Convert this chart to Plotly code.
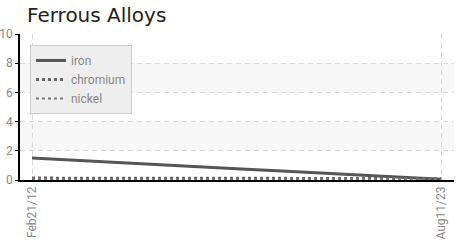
import plotly.graph_objects as go

dates = ["2012-02-21", "2013-02-21", "2014-02-21", "2015-02-21", "2016-02-21",
         "2017-02-21", "2018-02-21", "2019-02-21", "2020-02-21", "2021-02-21",
         "2022-02-21", "2023-02-21", "2023-08-11"]
iron = [1.50, 1.38, 1.25, 1.12, 1.00, 0.87, 0.74, 0.61, 0.48, 0.36, 0.23, 0.10, 0.05]
chromium = [0.13, 0.13, 0.13, 0.10, 0.10, 0.10, 0.10, 0.10, 0.10, 0.10, 0.10, 0.10, 0.10]
nickel = [0.05, 0.05, 0.05, 0.05, 0.05, 0.05, 0.05, 0.05, 0.05, 0.05, 0.05, 0.05, 0.05]
x_ticks = ["2012-02-21", "2023-08-11"]
x_tick_labels = ["Feb21/12", "Aug11/23"]
y_ticks = [0, 2, 4, 6, 8, 10]

narrow = "Roboto, sans-serif"

fig = go.Figure()
fig.add_trace(go.Scatter(x=dates, y=iron, name="iron", mode="lines",
                         line=dict(color="#555555", width=3)))
fig.add_trace(go.Scatter(x=dates, y=chromium, name="chromium", mode="lines",
                         line=dict(color="#666666", width=3, dash="dot")))
fig.add_trace(go.Scatter(x=dates, y=nickel, name="nickel", mode="lines",
                         line=dict(color="#777777", width=2, dash="dot")))

for a, b in [(2, 4), (6, 8)]:
    fig.add_shape(type="rect", xref="paper", yref="y", x0=0, x1=1, y0=a, y1=b,
                  fillcolor="#f7f7f7", line=dict(width=0), layer="below")

fig.update_layout(
    width=458, height=243,
    margin=dict(l=20, r=4, t=34, b=63, autoexpand=False),
    paper_bgcolor="white", plot_bgcolor="white",
    title=dict(text="Ferrous Alloys", x=0.059, xanchor="left", y=0.94, yanchor="middle",
               xref="container", yref="container", automargin=False,
               font=dict(family="DejaVu Sans, sans-serif", size=20, color="#222222")),
    showlegend=True,
    legend=dict(x=0.023, y=0.925, xanchor="left", yanchor="top",
                bgcolor="#eeeeee", bordercolor="#cccccc", borderwidth=1,
                font=dict(family=narrow, size=12, color="#888888"),
                tracegroupgap=0, itemwidth=30),
    xaxis=dict(type="date", range=["2011-10-21", "2023-12-20"], automargin=False,
               tickvals=x_ticks, ticktext=x_tick_labels, tickangle=-90,
               showgrid=True, gridcolor="#d8d8d8", griddash="5px,4px", gridwidth=1,
               showline=True, linecolor="black", linewidth=1.5,
               ticks="", zeroline=False, ticklabelstandoff=0,
               tickfont=dict(family=narrow, size=12, color="#888888")),
    yaxis=dict(range=[0, 10], tickvals=y_ticks, automargin=False,
               showgrid=True, gridcolor="#d8d8d8", griddash="5px,4px", gridwidth=1,
               showline=True, linecolor="black", linewidth=1.5,
               ticks="outside", ticklen=3, tickcolor="black", zeroline=False,
               ticklabelstandoff=0,
               tickfont=dict(family=narrow, size=12, color="#888888")),
    yaxis2=dict(range=[0, 10], tickvals=y_ticks, overlaying="y", side="left",
                anchor="x", showgrid=False, showticklabels=False, showline=False,
                ticks="inside", ticklen=3, tickcolor="black", zeroline=False,
                automargin=False),
)

fig.write_html("out.html", config={"displayModeBar": False},
               post_script="document.body.style.margin='0';")
